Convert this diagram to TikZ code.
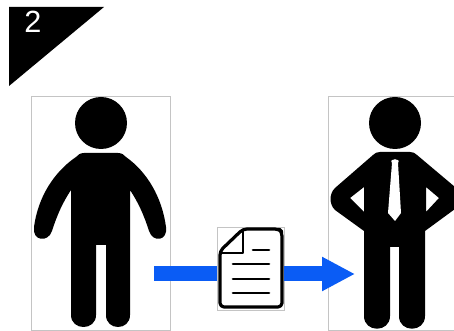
\documentclass[tikz,border=0pt]{standalone}
\usepackage{fontspec}
\setsansfont{Liberation Sans}
\usetikzlibrary{arrows.meta}
\definecolor{flowblue}{HTML}{0A5CF5}
\definecolor{framegray}{HTML}{C4C4C4}

\begin{document}
\begin{tikzpicture}[
		x=0.75pt, y=-0.75pt,
		every node/.style={font=\sffamily},
		framebox/.style={draw=framegray, line width=0.6pt, fill=white, minimum width=104.25pt, minimum height=175.5pt, inner sep=0pt},
		docbox/.style={draw=framegray, line width=0.6pt, fill=white, minimum width=50.25pt, minimum height=62.25pt, inner sep=0pt},
		flowarrow/.style={line width=11.25pt, flowblue},
		docline/.style={line width=2pt, line cap=round}
	]
	\clip (0,0) rectangle (454,331);

	% Corner badge
	\fill[black] (9,7) -- (104,7) -- (9,86) -- cycle;
	\node[text=white, font=\sffamily\fontsize{23}{23}\selectfont, inner sep=0pt] (badgenum) at (33,22) {2};

	% Frames
	\node[framebox] (personleft) at (100.5,213) {};
	\node[framebox] (personright) at (397.5,213) {};
	\node[docbox] (doc) at (250.5,268.5) {};

	% Plain figure
	\fill[black] (101,123) circle (26);
	\fill[black] (84,153) -- (118,153) .. controls (122,153) and (124,155) .. (126,157)
		.. controls (147,172) and (162,197) .. (166,227)
		.. controls (168,241) and (153,243) .. (149,231)
		.. controls (144,215) and (138,202) .. (130,190)
		-- (130,315) .. controls (130,331) and (106,331) .. (106,315)
		-- (106,245) -- (96,245)
		-- (96,315) .. controls (96,331) and (71,331) .. (71,315)
		-- (71,190)
		.. controls (63,202) and (57,215) .. (52,231)
		.. controls (48,243) and (32,241) .. (34,227)
		.. controls (38,197) and (54,172) .. (76,157)
		.. controls (78,155) and (80,153) .. (84,153) -- cycle;

	% Figure with tie
	\fill[black] (395,123) circle (26);
	\fill[black, even odd rule] (380,152) -- (410,152) .. controls (413,152) and (415,153) .. (417,155)
		-- (455,187)
		.. controls (461,193) and (461,204) .. (455,209)
		-- (425,231)
		-- (425,316) .. controls (425,333) and (399,333) .. (399,316)
		-- (399,247) -- (390,247)
		-- (390,316) .. controls (390,333) and (364,333) .. (364,316)
		-- (364,231)
		-- (335,210)
		.. controls (329,204) and (329,194) .. (335,188)
		-- (373,155) .. controls (375,153) and (377,152) .. (380,152) -- cycle
		(350,198) -- (364,187) -- (364,212) -- cycle
		(439,198) -- (426,187) -- (426,212) -- cycle;
	\fill[white] (392,163) .. controls (388,158) and (402,158) .. (398,163) -- (401,213) -- (395,221) -- (388,213) -- cycle;

	% Arrow through the document
	\coordinate (flowstart) at (154,274);
	\coordinate (flowend) at (355,274);
	\draw[flowarrow] (flowstart) -- (flowstart -| doc.west);
	\draw[flowarrow, -{Triangle[length=24.75pt, width=24pt]}] (flowstart -| doc.east) -- (flowend);

	% Document icon
	\draw[line width=2.4pt, line join=round, rounded corners=3pt] (250,229) -- (279,229) -- (282,232) -- (282,307) -- (220,307) -- (220,251) -- (243,229) -- (250,229);
	\draw[line width=2.2pt, line join=round] (243,229) -- (243,253) -- (220,253);
	\draw[docline] (253,250) -- (269,250);
	\draw[docline] (233,264) -- (269,264);
	\draw[docline] (233,279) -- (269,279);
	\draw[docline] (233,293) -- (269,293);
\end{tikzpicture}
\end{document}
